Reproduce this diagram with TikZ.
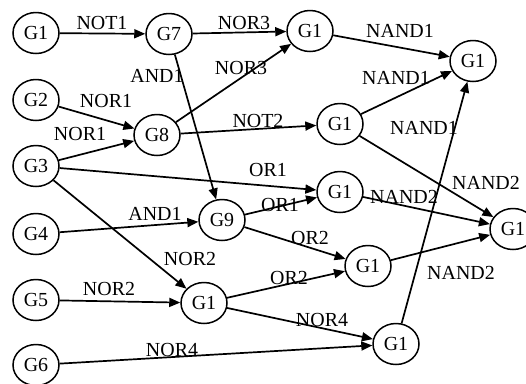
\documentclass[tikz,border=0pt]{standalone}
\usepackage{fontspec}
\setmainfont{Liberation Serif}
\usetikzlibrary{shapes.geometric,arrows.meta}
\begin{document}
\begin{tikzpicture}[x=1bp,y=-1bp,
  gate/.style={ellipse, draw, line width=1.5bp, minimum width=46bp, minimum height=41bp, inner sep=0pt, font=\fontsize{20}{24}\selectfont},
  lbl/.style={inner sep=0pt, font=\fontsize{20}{24}\selectfont},
  arr/.style={-{Triangle[length=11bp,width=9bp]}, line width=1.7bp}]
\useasboundingbox (0,0) rectangle (526,383);
% nodes
\node[gate] (a)  at (36,33)   {G1};
\node[gate] (g2) at (36,100)  {G2};
\node[gate] (g3) at (36,166)  {G3};
\node[gate] (g4) at (36,234)  {G4};
\node[gate] (g5) at (36,300)  {G5};
\node[gate] (g6) at (36,365)  {G6};
\node[gate] (g7) at (169,34)  {G7};
\node[gate] (g8) at (157,135) {G8};
\node[gate] (g9) at (222,220) {G9};
\node[gate] (b)  at (310,31)  {G1};
\node[gate] (c)  at (473,61)  {G1};
\node[gate] (d)  at (340,124) {G1};
\node[gate] (e)  at (340,192) {G1};
\node[gate] (f)  at (513,229) {G1};
\node[gate] (g)  at (204,303) {G1};
\node[gate] (h)  at (368,266) {G1};
\node[gate] (i)  at (396,344) {G1};
% edges
\draw[arr] (a) -- (g7);
\draw[arr] (g7) -- (b);
\draw[arr] (g8) -- (b);
\draw[arr] (b) -- (c);
\draw[arr] (d) -- (c);
\draw[arr] (i) -- (c);
\draw[arr] (g2) -- (g8);
\draw[arr] (g3) -- (g8);
\draw[arr] (g8) -- (d);
\draw[arr] (g7) -- (g9);
\draw[arr] (g3) -- (e);
\draw[arr] (g4) -- (g9);
\draw[arr] (g9) -- (e);
\draw[arr] (g9) -- (h);
\draw[arr] (g) -- (h);
\draw[arr] (g3) -- (g);
\draw[arr] (g5) -- (g);
\draw[arr] (g) -- (i);
\draw[arr] (g6) -- (i);
\draw[arr] (d) -- (f);
\draw[arr] (e) -- (f);
\draw[arr] (h) -- (f);
% labels
\node[lbl] (l1)  at (102,23)  {NOT1};
\node[lbl] (l2)  at (244,23)  {NOR3};
\node[lbl] (l3)  at (241,68)  {NOR3};
\node[lbl] (l4)  at (400,31)  {NAND1};
\node[lbl] (l5)  at (396,78)  {NAND1};
\node[lbl] (l6)  at (424,128) {NAND1};
\node[lbl] (l7)  at (106,101) {NOR1};
\node[lbl] (l8)  at (80,134)  {NOR1};
\node[lbl] (l9)  at (258,121) {NOT2};
\node[lbl] (l10) at (157,76)  {AND1};
\node[lbl] (l11) at (268,170) {OR1};
\node[lbl] (l12) at (155,214) {AND1};
\node[lbl] (l13) at (280,205) {OR1};
\node[lbl] (l14) at (310,238) {OR2};
\node[lbl] (l15) at (289,278) {OR2};
\node[lbl] (l16) at (190,259) {NOR2};
\node[lbl] (l17) at (109,289) {NOR2};
\node[lbl] (l18) at (322,320) {NOR4};
\node[lbl] (l19) at (172,350) {NOR4};
\node[lbl] (l20) at (486,183) {NAND2};
\node[lbl] (l21) at (404,197) {NAND2};
\node[lbl] (l22) at (461,273) {NAND2};
\end{tikzpicture}
\end{document}
